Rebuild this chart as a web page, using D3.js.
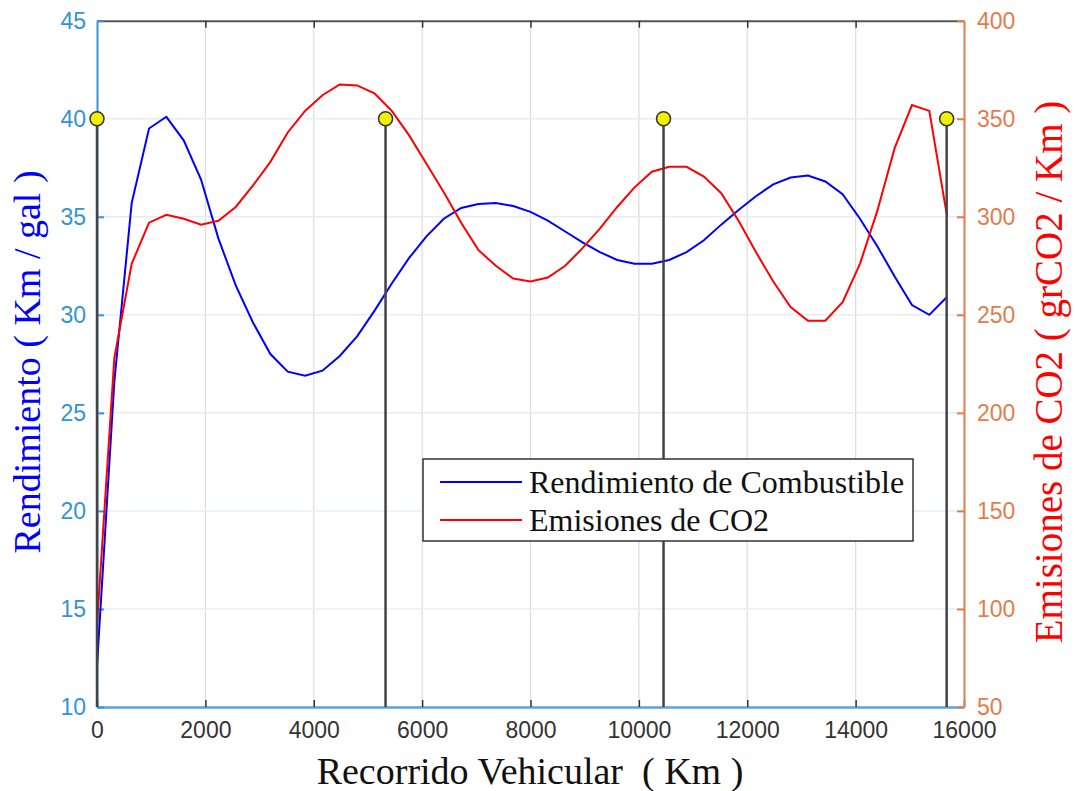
<!DOCTYPE html>
<html>
<head>
<meta charset="utf-8">
<script src="https://cdn.jsdelivr.net/npm/d3@7"></script>
<style>
  body { margin: 0; background: #fff; }
  svg { display: block; }
</style>
</head>
<body>
<div id="chart"></div>
<script>
// recorrido (km) de cada muestra
var recorrido = [0, 320, 640, 960, 1280, 1600, 1920, 2240, 2560, 2880,
  3200, 3520, 3840, 4160, 4480, 4800, 5120, 5440, 5760, 6080,
  6400, 6720, 7040, 7360, 7680, 8000, 8320, 8640, 8960, 9280,
  9600, 9920, 10240, 10560, 10880, 11200, 11520, 11840, 12160, 12480,
  12800, 13120, 13440, 13760, 14080, 14400, 14720, 15040, 15360, 15680];

// Km / gal
var rendimiento = [12.1, 26.6, 35.7, 39.5, 40.1, 38.9, 36.9, 33.9, 31.5, 29.6,
  28.0, 27.1, 26.9, 27.15, 27.9, 28.9, 30.2, 31.6, 32.9, 34.0,
  34.9, 35.45, 35.65, 35.7, 35.55, 35.25, 34.8, 34.25, 33.7, 33.2,
  32.8, 32.6, 32.6, 32.8, 33.2, 33.8, 34.6, 35.35, 36.05, 36.65,
  37.0, 37.1, 36.8, 36.15, 34.9, 33.5, 31.95, 30.5, 30.0, 30.9];

// grCO2 / Km
var emisiones = [92, 228, 276, 297, 301, 299, 296, 298, 305, 316,
  328, 343, 354, 362, 367.5, 367, 363, 354, 341.5, 327,
  312.5, 297, 283, 275, 268.5, 267, 269, 275, 284, 294,
  305, 315, 323, 325.5, 325.5, 320.5, 312, 298, 282, 267,
  254, 247, 247, 256.5, 276, 303, 335, 357, 354, 301.5];

// marcas verticales (stem)
var marcasKm = [0, 5325, 10455, 15680];
var marcasValor = [40, 40, 40, 40];

var xTicks = [0, 2000, 4000, 6000, 8000, 10000, 12000, 14000, 16000];
var yLeftTicks = [10, 15, 20, 25, 30, 35, 40, 45];
var yRightTicks = [50, 100, 150, 200, 250, 300, 350, 400];

var serieNombres = ["Rendimiento de Combustible", "Emisiones de CO2"];

var width = 1075, height = 791;
var mLeft = 97, mRight = 964, mTop = 20.7, mBottom = 707;

var colLeft = "#3393d4";
var colRight = "#e27d4b";

var svg = d3.select("#chart").append("svg")
  .attr("width", width)
  .attr("height", height);

var x = d3.scaleLinear().domain([0, 16000]).range([mLeft, mRight]);
var yL = d3.scaleLinear().domain([10, 45]).range([mBottom, mTop]);
var yR = d3.scaleLinear().domain([50, 400]).range([mBottom, mTop]);

// grid
svg.append("g").selectAll("line")
  .data(xTicks.slice(1, -1))
  .join("line")
  .attr("x1", d => x(d)).attr("x2", d => x(d))
  .attr("y1", mTop).attr("y2", mBottom)
  .attr("stroke", "#dcdcdc")
  .attr("stroke-width", 1.2);

svg.append("g").selectAll("line")
  .data(yLeftTicks.slice(1, -1))
  .join("line")
  .attr("x1", mLeft).attr("x2", mRight)
  .attr("y1", d => yL(d)).attr("y2", d => yL(d))
  .attr("stroke", "#e3eef8")
  .attr("stroke-width", 1.5);

// axes
var tickFont = "'Liberation Sans', Arial, sans-serif";
var fmt = d3.format("d");

var xAxis = svg.append("g")
  .attr("transform", `translate(0,${mBottom})`)
  .call(d3.axisBottom(x).tickValues(xTicks).tickFormat(fmt).tickSize(-7).tickPadding(15).tickSizeOuter(0));
xAxis.select(".domain").attr("stroke", "#5aa2d8").attr("stroke-width", 2.5);
xAxis.selectAll(".tick line").attr("stroke", "#333").attr("stroke-width", 1.5);
xAxis.selectAll(".tick text").attr("fill", "#333").style("font", `23px ${tickFont}`);

var xTop = svg.append("g")
  .attr("transform", `translate(0,${mTop})`)
  .call(d3.axisTop(x).tickValues(xTicks.slice(1, -1)).tickSize(-7).tickSizeOuter(0).tickFormat(""));
xTop.select(".domain").attr("stroke", "#555").attr("stroke-width", 2);
xTop.selectAll(".tick line").attr("stroke", "#333").attr("stroke-width", 1.5);

var yAxisL = svg.append("g")
  .attr("transform", `translate(${mLeft},0)`)
  .call(d3.axisLeft(yL).tickValues(yLeftTicks).tickFormat(fmt).tickSize(-7).tickPadding(11).tickSizeOuter(0));
yAxisL.select(".domain").attr("stroke", colLeft).attr("stroke-width", 2);
yAxisL.selectAll(".tick line").attr("stroke", colLeft).attr("stroke-width", 2);
yAxisL.selectAll(".tick text").attr("fill", colLeft).style("font", `23px ${tickFont}`);

var yAxisR = svg.append("g")
  .attr("transform", `translate(${mRight},0)`)
  .call(d3.axisRight(yR).tickValues(yRightTicks).tickFormat(fmt).tickSize(-7).tickPadding(13).tickSizeOuter(0));
yAxisR.select(".domain").attr("stroke", colRight).attr("stroke-width", 2);
yAxisR.selectAll(".tick line").attr("stroke", colRight).attr("stroke-width", 2);
yAxisR.selectAll(".tick text").attr("fill", colRight).style("font", `23px ${tickFont}`);

// series
var lineL = d3.line().x((d, i) => x(recorrido[i])).y(d => yL(d));
var lineR = d3.line().x((d, i) => x(recorrido[i])).y(d => yR(d));

svg.append("path")
  .datum(rendimiento)
  .attr("d", lineL)
  .attr("fill", "none")
  .attr("stroke", "#0000ff")
  .attr("stroke-width", 2);

svg.append("path")
  .datum(emisiones)
  .attr("d", lineR)
  .attr("fill", "none")
  .attr("stroke", "#ff0000")
  .attr("stroke-width", 2);

// stems
var stems = svg.append("g");
stems.selectAll("line")
  .data(marcasKm)
  .join("line")
  .attr("x1", d => x(d)).attr("x2", d => x(d))
  .attr("y1", yL(10))
  .attr("y2", (d, i) => yL(marcasValor[i]))
  .attr("stroke", "#444")
  .attr("stroke-width", 2.5);
stems.selectAll("circle")
  .data(marcasKm)
  .join("circle")
  .attr("cx", d => x(d))
  .attr("cy", (d, i) => yL(marcasValor[i]))
  .attr("r", 7)
  .attr("fill", "#f2f000")
  .attr("stroke", "#333")
  .attr("stroke-width", 1.5);

// axis titles
var serif = "'Liberation Serif', 'Times New Roman', serif";

svg.append("text")
  .attr("transform", "translate(40,362) rotate(-90)")
  .attr("text-anchor", "middle")
  .attr("fill", "#0000ff")
  .style("font", `38px ${serif}`)
  .text("Rendimiento ( Km / gal )");

svg.append("text")
  .attr("transform", "translate(1062,372) rotate(-90)")
  .attr("text-anchor", "middle")
  .attr("fill", "#ff0000")
  .style("font", `39px ${serif}`)
  .text("Emisiones de CO2 ( grCO2 / Km )");

svg.append("text")
  .attr("x", 530)
  .attr("y", 784)
  .attr("text-anchor", "middle")
  .attr("fill", "#111")
  .style("font", `38px ${serif}`)
  .text("Recorrido Vehicular\u00a0\u00a0( Km )");

// legend
var legend = svg.append("g").attr("transform", "translate(423,459)");
legend.append("rect")
  .attr("width", 490).attr("height", 82)
  .attr("fill", "#fff")
  .attr("stroke", "#333")
  .attr("stroke-width", 1.5);

var legendColors = ["#0000ff", "#ff0000"];
var rows = legend.selectAll("g.row")
  .data(serieNombres)
  .join("g")
  .attr("class", "row")
  .attr("transform", (d, i) => `translate(0,${23 + i * 38})`);
rows.append("line")
  .attr("x1", 17).attr("x2", 99)
  .attr("stroke", (d, i) => legendColors[i])
  .attr("stroke-width", 2);
rows.append("text")
  .attr("x", 106)
  .attr("dy", "0.35em")
  .attr("fill", "#111")
  .style("font", `32px ${serif}`)
  .text(d => d);
</script>
</body>
</html>
